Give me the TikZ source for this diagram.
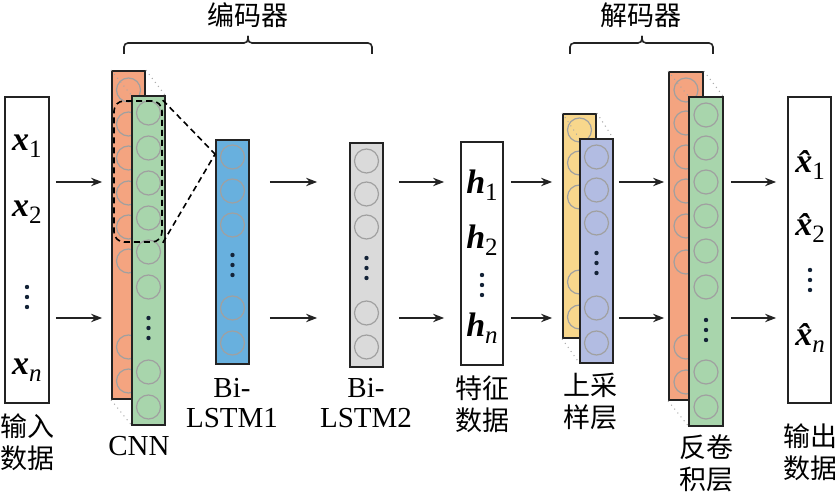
\documentclass[tikz,border=0pt]{standalone}
\usepackage{fontspec}
\setmainfont{Liberation Serif}
\newfontfamily\cjk{Noto Sans CJK SC}
\usetikzlibrary{fit,calc,arrows.meta}
\definecolor{cOrange}{RGB}{244,164,128}
\definecolor{cGreen}{RGB}{168,213,172}
\definecolor{cBlue}{RGB}{104,176,222}
\definecolor{cGray}{RGB}{218,218,218}
\definecolor{cYellow}{RGB}{248,215,140}
\definecolor{cLav}{RGB}{178,188,226}
\definecolor{cCirc}{RGB}{160,160,160}
\definecolor{cDot}{RGB}{20,35,55}
\definecolor{cLine}{RGB}{35,35,35}
\newcommand{\vv}[2]{{\fontsize{17}{17}\selectfont\bfseries\itshape #1}\raisebox{-3.5pt}{\fontsize{12.5}{12.5}\selectfont #2}}
\begin{document}
\begin{tikzpicture}[x=0.5pt,y=-0.5pt,
  lay/.style={draw=cLine, line width=0.9pt, inner sep=0pt},
  circ/.style={draw=cCirc, line width=0.6pt},
  persp/.style={draw=gray!70, dotted, line width=0.5pt},
  arr/.style={draw=cLine, line width=0.65pt, -{Stealth[length=5.5pt,width=4.2pt]}},
  dsh/.style={draw=black, line width=0.8pt, dash pattern=on 3pt off 2pt},
  brace/.style={draw=cLine, line width=0.8pt, rounded corners=2pt},
  cjklab/.style={font=\cjk\fontsize{13.5}{16}\selectfont, align=center, inner sep=0pt},
  latlab/.style={font=\fontsize{14.5}{15}\selectfont, align=center, inner sep=0pt},
  var/.style={inner sep=0pt}]
\useasboundingbox (0,0) rectangle (835,501);

% rows for arrows
\coordinate (r1) at (0,182);
\coordinate (r2) at (0,318);

% input box
\node[lay, fit={(5,97)(49,403)}] (in) {};
\node[var] (vx1) at (27,146) {\vv{x}{1}};
\node[var] (vx2) at (27,212) {\vv{x}{2}};
\foreach \y in {287,297,307} \fill[cDot] (27,\y) circle[radius=1.1pt];
\node[var] (vxn) at (27,370) {\vv{x}{\textit{n}}};

% CNN
\node[lay, fill=cOrange, fit={(112,71)(145,399)}] (cnnA) {};
\foreach \y in {90,124,158,193,227,261,347,381} \draw[circ] (128.5,\y) circle[radius=6pt];
\node[inner sep=0pt, fit={(132,96)(165,425)}] (cnnBp) {};
\draw[persp] (cnnA.north west) -- (cnnBp.north west);
\draw[persp] (cnnA.north east) -- (cnnBp.north east);
\draw[persp] (cnnA.south west) -- (cnnBp.south west);
\node[lay, fill=cGreen, fit={(132,96)(165,425)}] (cnnB) {};
\foreach \y in {113,148,183,218,252,287,372,407} \draw[circ] (148.5,\y) circle[radius=6pt];
\foreach \y in {318,328,338} \fill[cDot] (148.5,\y) circle[radius=1.1pt];
\node[dsh, rounded corners=5pt, inner sep=0pt, fit={(114,101)(162,242)}] (db) {};

% Bi-LSTM1
\node[lay, fill=cBlue, fit={(216,140)(249,364)}] (l1) {};
\foreach \y in {157,191,225,308,343} \draw[circ] (232.5,\y) circle[radius=6pt];
\foreach \y in {255,265,275} \fill[cDot] (232.5,\y) circle[radius=1.1pt];
\coordinate (l1p) at ($(l1.north west)+(0,15)$);
\draw[dsh] (db.north east) -- (l1p);
\draw[dsh] (db.south east) -- (l1p);

% Bi-LSTM2
\node[lay, fill=cGray, fit={(350,143)(383,367)}] (l2) {};
\foreach \y in {161,194,227,313,347} \draw[circ] (366.5,\y) circle[radius=6pt];
\foreach \y in {258,268,278} \fill[cDot] (366.5,\y) circle[radius=1.1pt];

% feature data
\node[lay, fit={(461,142)(503,365)}] (hbox) {};
\node[var] (vh1) at (482,185) {\vv{h}{1}};
\node[var] (vh2) at (482,240) {\vv{h}{2}};
\foreach \y in {275,285,295} \fill[cDot] (482,\y) circle[radius=1.1pt];
\node[var] (vhn) at (482,328) {\vv{h}{\textit{n}}};

% upsampling
\node[lay, fill=cYellow, fit={(563,114)(596,338)}] (upA) {};
\foreach \y in {130,163,197,282,317} \draw[circ] (579.5,\y) circle[radius=6pt];
\node[inner sep=0pt, fit={(580,139)(613,363)}] (upBp) {};
\draw[persp] (upA.north west) -- (upBp.north west);
\draw[persp] (upA.north east) -- (upBp.north east);
\draw[persp] (upA.south west) -- (upBp.south west);
\node[lay, fill=cLav, fit={(580,139)(613,363)}] (upB) {};
\foreach \y in {157,190,223,308,343} \draw[circ] (596.5,\y) circle[radius=6pt];
\foreach \y in {253,263,273} \fill[cDot] (596.5,\y) circle[radius=1.1pt];

% deconvolution
\node[lay, fill=cOrange, fit={(669,72)(703,400)}] (dcA) {};
\foreach \y in {90,123,157,191,226,262,347,382} \draw[circ] (686,\y) circle[radius=6pt];
\node[inner sep=0pt, fit={(689,97)(723,426)}] (dcBp) {};
\draw[persp] (dcA.north west) -- (dcBp.north west);
\draw[persp] (dcA.north east) -- (dcBp.north east);
\draw[persp] (dcA.south west) -- (dcBp.south west);
\node[lay, fill=cGreen, fit={(689,97)(723,426)}] (dcB) {};
\foreach \y in {115,148,182,216,251,287,372,407} \draw[circ] (706,\y) circle[radius=6pt];
\foreach \y in {320,330,340} \fill[cDot] (706,\y) circle[radius=1.1pt];

% output
\node[lay, fit={(788,97)(831,403)}] (out) {};
\node[var] (vo1) at (810,165) {\vv{\^{x}}{1}};
\node[var] (vo2) at (810,228) {\vv{\^{x}}{2}};
\foreach \y in {270,280,290} \fill[cDot] (810,\y) circle[radius=1.1pt];
\node[var] (von) at (810,338) {\vv{\^{x}}{\textit{n}}};

% arrows
\foreach \r in {r1,r2} {
  \draw[arr] ($(in.east|-\r)+(6,0)$) -- ($(cnnA.west|-\r)+(-9,0)$);
  \draw[arr] ($(l1.east|-\r)+(20,0)$) -- ($(l2.west|-\r)+(-32,0)$);
  \draw[arr] ($(l2.east|-\r)+(15,0)$) -- ($(hbox.west|-\r)+(-16,0)$);
  \draw[arr] ($(hbox.east|-\r)+(7,0)$) -- ($(upA.west|-\r)+(-10,0)$);
  \draw[arr] ($(upB.east|-\r)+(5,0)$) -- ($(dcA.west|-\r)+(-4,0)$);
  \draw[arr] ($(dcB.east|-\r)+(7,0)$) -- ($(out.west|-\r)+(-11,0)$);
}

% braces
\draw[brace] (124,54) -- (124,43) -- (248,43) -- (248,36);
\draw[brace] (248,36) -- (248,43) -- (372,43) -- (372,54);
\draw[brace] (570,54) -- (570,43) -- (642,43) -- (642,36);
\draw[brace] (642,36) -- (642,43) -- (713,43) -- (713,54);
\node[cjklab] (enc) at (248,15) {编码器};
\node[cjklab] (dec) at (641,15) {解码器};

% labels
\node[cjklab] (tin) at (28,442) {输入\\数据};
\node[latlab] (tcnn) at (139,446) {CNN};
\node[latlab] (tl1) at (232,403) {Bi-\\LSTM1};
\node[latlab] (tl2) at (366,403) {Bi-\\LSTM2};
\node[cjklab] (th) at (482,404) {特征\\数据};
\node[cjklab] (tup) at (590,402) {上采\\样层};
\node[cjklab] (tdc) at (706,463) {反卷\\积层};
\node[cjklab] (tout) at (810,452) {输出\\数据};
\end{tikzpicture}
\end{document}
